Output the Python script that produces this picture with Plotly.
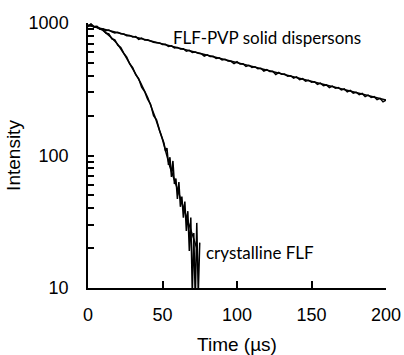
import plotly.graph_objects as go

# FLF-PVP solid dispersions: measured decay (time in µs, intensity)
pvp_t = list(range(0, 201, 2))
pvp_i = [941, 970, 930, 936, 899, 904, 874, 886, 858, 842, 850, 830, 826, 800, 806, 784, 790,
         752, 768, 744, 748, 730, 716, 709, 707, 688, 690, 664, 672, 648, 654, 636, 640, 612,
         622, 600, 604, 590, 586, 562, 576, 558, 560, 540, 546, 526, 532, 516, 514, 494, 510,
         490, 492, 470, 480, 462, 468, 452, 455, 434, 444, 430, 432, 408, 423, 410, 412, 396,
         400, 384, 392, 374, 380, 364, 370, 358, 360, 344, 352, 336, 341, 326, 334, 322, 326,
         312, 318, 302, 310, 296, 300, 288, 294, 278, 286, 274, 278, 264, 270, 254, 262]
# FLF-PVP fitted curve
pvp_fit_t = [0, 20, 40, 60, 80, 100, 120, 140, 160, 180, 200]
pvp_fit_i = [960, 843, 740, 650, 571, 502, 440, 387, 340, 298, 262]

# crystalline FLF: measured decay
cry_t = [0, 2, 4, 6, 8, 10, 12, 14, 16, 18, 20, 22, 24, 26, 28, 30, 32, 34, 36, 38, 40, 42,
         44, 46, 48, 50, 51, 52, 53, 54, 55, 56, 57, 58, 59, 60, 61, 62, 63, 64, 65, 66, 67,
         68, 69, 70, 71, 72, 73, 74, 75]
cry_i = [945, 985, 940, 945, 905, 892, 840, 826, 760, 745, 680, 652, 592, 552, 492, 460, 408,
         380, 328, 304, 266, 244, 200, 186, 155, 131, 124, 108, 114, 85, 97, 69, 91, 61, 67,
         47, 63, 41, 49, 34, 45, 27, 38, 19, 34, 9, 26, 8, 31, 9, 22]
# crystalline FLF fitted curve
cry_fit_t = [0, 5, 10, 15, 20, 25, 30, 35, 40, 45, 50, 55, 60, 65, 70, 73]
cry_fit_i = [960, 935, 880, 790, 690, 565, 450, 360, 275, 195, 132, 82, 56, 38, 25, 20]

labels = ["FLF-PVP solid dispersons", "crystalline FLF"]
y_ticks = [10, 20, 30, 40, 50, 60, 70, 80, 90, 100, 200, 300, 400, 500, 600, 700, 800, 900, 1000]
y_ticktext = ["10"] + [""] * 8 + ["100"] + [""] * 8 + ["1000"]

fig = go.Figure()
line = dict(color="black", width=1.5)
fig.add_trace(go.Scatter(x=pvp_t, y=pvp_i, mode="lines", line=line, showlegend=False))
fig.add_trace(go.Scatter(x=pvp_fit_t, y=pvp_fit_i, mode="lines", line=line, showlegend=False))
fig.add_trace(go.Scatter(x=cry_t, y=cry_i, mode="lines", line=line, showlegend=False))
fig.add_trace(go.Scatter(x=cry_fit_t, y=cry_fit_i, mode="lines", line=line, showlegend=False))

ann_font = dict(family="Lato", size=17, color="black")
fig.add_annotation(x=55.5, y=2.89, text=labels[0], showarrow=False, xanchor="left",
                   yanchor="middle", font=ann_font)
fig.add_annotation(x=78, y=1.265, text=labels[1], showarrow=False, xanchor="left",
                   yanchor="middle", font=ann_font)

tickfont = dict(family="Liberation Sans, Arial", size=18, color="black")
titlefont = dict(family="Liberation Sans, Arial", size=19, color="black")
fig.update_layout(
    width=404, height=355,
    margin=dict(l=88, r=18, t=23, b=67),
    paper_bgcolor="white", plot_bgcolor="white",
    xaxis=dict(range=[0, 200], tickmode="linear", tick0=0, dtick=50, ticks="inside",
               ticklen=7, tickwidth=1.5, tickcolor="black", showline=True, linecolor="black",
               linewidth=1.5, showgrid=False, zeroline=False, tickfont=tickfont,
               ticklabelstandoff=10, automargin=False,
               title=dict(text="Time (µs)", font=titlefont, standoff=13)),
    yaxis=dict(type="log", range=[1, 3], tickmode="array", tickvals=y_ticks,
               ticktext=y_ticktext, ticks="inside", ticklen=6, tickwidth=1.5,
               tickcolor="black", showline=True, linecolor="black", linewidth=1.5,
               showgrid=False, zeroline=False, tickfont=tickfont, ticklabelstandoff=14,
               automargin=False,
               title=dict(text="Intensity", font=titlefont, standoff=3)),
)
fig.write_html("out.html")
